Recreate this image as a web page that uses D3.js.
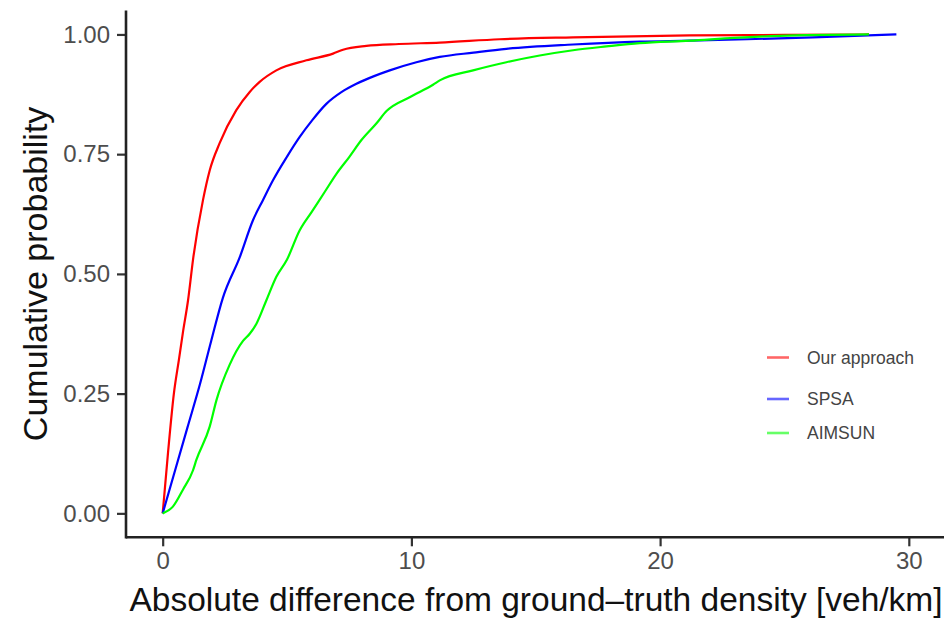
<!DOCTYPE html>
<html>
<head>
<meta charset="utf-8">
<script src="https://cdn.jsdelivr.net/npm/d3@7"></script>
<style>
  html, body { margin: 0; padding: 0; background: #fff; }
  svg { display: block; font-family: "Liberation Sans", Arial, Helvetica, sans-serif; }
</style>
</head>
<body>
<svg id="chart" width="944" height="621"></svg>
<script>
// ---- data ----
const seriesNames = ["Our approach", "SPSA", "AIMSUN"];
const seriesColors = ["#ff0000", "#0000ff", "#00ff00"];

const oursX = [0, 0.22, 0.45, 0.65, 0.82, 1.02, 1.22, 1.62, 1.89, 2.29, 2.96, 3.5, 3.9, 4.57, 5.78, 6.85, 7.25, 8.19, 9.5, 11.14, 13.55, 16.5, 21.19, 25, 28.4];
const oursY = [0, 0.13, 0.25, 0.32, 0.38, 0.445, 0.53, 0.654, 0.716, 0.773, 0.842, 0.88, 0.901, 0.925, 0.946, 0.96, 0.968, 0.976, 0.98, 0.983, 0.99, 0.994, 0.998, 0.999, 1.0];

const spsaX = [0, 0.5, 1.0, 1.5, 1.95, 2.42, 3.1, 3.63, 4.03, 4.43, 5.0, 5.51, 6.0, 6.58, 7.2, 7.79, 8.5, 9.13, 10.2, 11.14, 12.5, 13.82, 16.5, 19.18, 21.19, 23.5, 26.14, 29.5];
const spsaY = [0, 0.09, 0.18, 0.27, 0.36, 0.45, 0.535, 0.612, 0.654, 0.695, 0.745, 0.786, 0.82, 0.855, 0.88, 0.897, 0.913, 0.925, 0.942, 0.953, 0.962, 0.97, 0.979, 0.985, 0.987, 0.99, 0.994, 1.0];

const aimsunX = [0, 0.41, 0.82, 1.22, 1.35, 1.89, 2.16, 2.69, 3.23, 3.5, 3.77, 4.17, 4.57, 5.0, 5.5, 6.0, 6.5, 7.0, 7.5, 8.0, 8.59, 9.0, 9.93, 10.87, 11.14, 12.48, 13.82, 15.16, 16.5, 17.84, 19.18, 21.19, 23, 24.8, 28.4];
const aimsunY = [0, 0.014, 0.05, 0.09, 0.111, 0.181, 0.236, 0.31, 0.36, 0.375, 0.396, 0.445, 0.494, 0.53, 0.59, 0.63, 0.67, 0.71, 0.744, 0.78, 0.814, 0.84, 0.869, 0.895, 0.904, 0.925, 0.942, 0.956, 0.967, 0.975, 0.982, 0.987, 0.993, 0.997, 1.0];

const xTicks = [0, 10, 20, 30];
const yTicks = [0, 0.25, 0.5, 0.75, 1.0];
const xTitle = "Absolute difference from ground\u2013truth density [veh/km]";
const yTitle = "Cumulative probability";

// ---- layout ----
const svg = d3.select("#chart");
const panel = { left: 126, right: 944, top: 10.5, bottom: 537.3 };

const x = d3.scaleLinear().domain([-1.475, 31.415]).range([panel.left, panel.right]);
const y = d3.scaleLinear().domain([-0.05, 1.05]).range([panel.bottom, panel.top]);

const series = [
  { name: seriesNames[0], color: seriesColors[0], xs: oursX, ys: oursY },
  { name: seriesNames[1], color: seriesColors[1], xs: spsaX, ys: spsaY },
  { name: seriesNames[2], color: seriesColors[2], xs: aimsunX, ys: aimsunY }
];

const line = d3.line().x(d => x(d[0])).y(d => y(d[1])).curve(d3.curveMonotoneX);

const g = svg.append("g");
series.forEach(s => {
  const pts = s.xs.map((v, i) => [v, s.ys[i]]);
  g.append("path")
    .datum(pts)
    .attr("fill", "none")
    .attr("stroke", s.color)
    .attr("stroke-width", 2.2)
    .attr("stroke-linejoin", "round")
    .attr("d", line);
});

// ---- axes ----
const xAxis = d3.axisBottom(x).tickValues(xTicks).tickSize(9).tickPadding(6).tickFormat(d3.format("d"));
const yAxis = d3.axisLeft(y).tickValues(yTicks).tickSize(9).tickPadding(7).tickFormat(d3.format(".2f"));

const gx = svg.append("g").attr("transform", `translate(0,${panel.bottom})`).call(xAxis);
const gy = svg.append("g").attr("transform", `translate(${panel.left},0)`).call(yAxis);

[gx, gy].forEach(a => {
  a.select(".domain").remove();
  a.selectAll(".tick line").attr("stroke", "#333").attr("stroke-width", 2.2);
  a.selectAll(".tick text").attr("fill", "#4d4d4d").style("font-size", "24px");
});
gx.selectAll(".tick text").attr("dy", "0.71em");

// axis lines
svg.append("line")
  .attr("x1", panel.left).attr("x2", panel.right)
  .attr("y1", panel.bottom).attr("y2", panel.bottom)
  .attr("stroke", "#222").attr("stroke-width", 2.6);
svg.append("line")
  .attr("x1", panel.left).attr("x2", panel.left)
  .attr("y1", panel.top).attr("y2", panel.bottom + 1.3)
  .attr("stroke", "#222").attr("stroke-width", 2.6);

// titles
svg.append("text")
  .attr("x", 536).attr("y", 611)
  .attr("text-anchor", "middle")
  .style("font-size", "33.5px")
  .attr("fill", "#111")
  .text(xTitle);

svg.append("text")
  .attr("transform", `translate(47,${(panel.top + panel.bottom) / 2}) rotate(-90)`)
  .attr("text-anchor", "middle")
  .style("font-size", "34px")
  .attr("fill", "#111")
  .text(yTitle);

// ---- legend ----
const legendY = [357.5, 399, 433];
const lg = svg.append("g");
series.forEach((s, i) => {
  lg.append("line")
    .attr("x1", 767).attr("x2", 789)
    .attr("y1", legendY[i]).attr("y2", legendY[i])
    .attr("stroke", s.color).attr("stroke-width", 2.6).attr("stroke-opacity", 0.6);
  lg.append("text")
    .attr("x", 807).attr("y", legendY[i])
    .attr("dy", "0.35em")
    .style("font-size", "17.5px")
    .attr("fill", "#444")
    .text(s.name);
});
</script>
</body>
</html>
